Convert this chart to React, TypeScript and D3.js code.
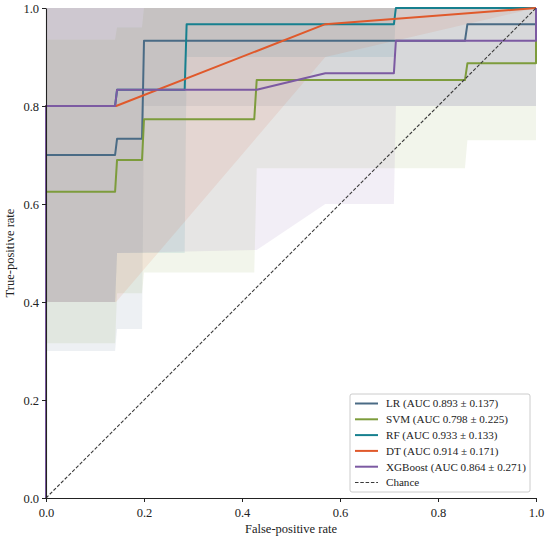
import React, { useEffect, useRef } from "react";
import * as d3 from "d3";

// rows: [fpr, mean tpr, mean - std, mean + std]
type RocRow = [number, number, number, number];

const LR_ROC: RocRow[] = [
  [0, 0, 0, 0],
  [0, 0.7, 0.3, 1],
  [0.141, 0.7, 0.3, 1],
  [0.145, 0.733, 0.345, 1],
  [0.196, 0.733, 0.345, 1],
  [0.2, 0.933, 0.8, 1],
  [0.855, 0.933, 0.8, 1],
  [0.86, 0.967, 0.8, 1],
  [1, 0.967, 0.8, 1],
  [1, 1, 1, 1],
];

const SVM_ROC: RocRow[] = [
  [0, 0, 0, 0],
  [0, 0.625, 0.316, 0.935],
  [0.141, 0.625, 0.316, 0.935],
  [0.145, 0.69, 0.418, 0.96],
  [0.196, 0.69, 0.418, 0.96],
  [0.2, 0.773, 0.46, 1],
  [0.425, 0.773, 0.46, 1],
  [0.43, 0.853, 0.673, 1],
  [0.855, 0.853, 0.673, 1],
  [0.86, 0.887, 0.73, 1],
  [1, 0.887, 0.73, 1],
  [1, 1, 1, 1],
];

const RF_ROC: RocRow[] = [
  [0, 0, 0, 0],
  [0, 0.8, 0.4, 1],
  [0.141, 0.8, 0.4, 1],
  [0.145, 0.833, 0.5, 1],
  [0.283, 0.833, 0.5, 1],
  [0.287, 0.967, 0.9, 1],
  [0.71, 0.967, 0.9, 1],
  [0.714, 1, 1, 1],
  [1, 1, 1, 1],
];

const DT_ROC: RocRow[] = [
  [0, 0, 0, 0],
  [0, 0.8, 0.4, 1],
  [0.143, 0.8, 0.4, 1],
  [0.57, 0.967, 0.9, 1],
  [1, 1, 1, 1],
];

const XGB_ROC: RocRow[] = [
  [0, 0, 0, 0],
  [0, 0.8, 0.4, 1],
  [0.141, 0.8, 0.4, 1],
  [0.145, 0.833, 0.5, 1],
  [0.43, 0.833, 0.506, 1],
  [0.57, 0.867, 0.6, 1],
  [0.71, 0.867, 0.6, 1],
  [0.714, 0.933, 0.8, 1],
  [1, 0.933, 0.8, 1],
  [1, 1, 1, 1],
];

const MODEL_NAMES = ["LR", "SVM", "RF", "DT", "XGBoost"];
const AUC_MEANS = ["0.893", "0.798", "0.933", "0.914", "0.864"];
const AUC_STDS = ["0.137", "0.225", "0.133", "0.171", "0.271"];
const MODEL_ROCS = [LR_ROC, SVM_ROC, RF_ROC, DT_ROC, XGB_ROC];
const COLORS = ["#4a6b85", "#7d9c3c", "#17808f", "#e0592b", "#7c5aa2"];

const X_TICKS = [0, 0.2, 0.4, 0.6, 0.8, 1.0];
const Y_TICKS = [0, 0.2, 0.4, 0.6, 0.8, 1.0];

const FONT = "'Liberation Serif', 'Times New Roman', serif";

export default function App() {
  const ref = useRef<SVGSVGElement>(null);

  useEffect(() => {
    const svg = d3.select(ref.current);
    svg.selectAll("*").remove();

    const width = 550;
    const height = 541;
    const margin = { top: 8, right: 14, bottom: 43, left: 46 };

    const x = d3
      .scaleLinear()
      .domain([0, 1])
      .range([margin.left, width - margin.right]);
    const y = d3
      .scaleLinear()
      .domain([0, 1])
      .range([height - margin.bottom, margin.top]);

    svg.attr("width", width).attr("height", height);

    // std bands
    const area = d3
      .area<RocRow>()
      .x((d) => x(d[0]))
      .y0((d) => y(d[2]))
      .y1((d) => y(d[3]));

    svg
      .append("g")
      .selectAll("path")
      .data(MODEL_ROCS)
      .join("path")
      .attr("d", (d) => area(d)!)
      .attr("fill", (_, i) => COLORS[i])
      .attr("fill-opacity", 0.1)
      .attr("stroke", "none");

    // mean curves
    const line = d3
      .line<RocRow>()
      .x((d) => x(d[0]))
      .y((d) => y(d[1]));

    svg
      .append("g")
      .selectAll("path")
      .data(MODEL_ROCS)
      .join("path")
      .attr("d", (d) => line(d)!)
      .attr("fill", "none")
      .attr("stroke", (_, i) => COLORS[i])
      .attr("stroke-width", 2)
      .attr("stroke-linejoin", "round");

    // chance
    svg
      .append("line")
      .attr("x1", x(0))
      .attr("y1", y(0))
      .attr("x2", x(1))
      .attr("y2", y(1))
      .attr("stroke", "#3a3a3a")
      .attr("stroke-width", 1.1)
      .attr("stroke-dasharray", "3.5,1.8");

    // axes
    const xAxis = svg
      .append("g")
      .attr("transform", `translate(0,${height - margin.bottom})`)
      .call(
        d3
          .axisBottom(x)
          .tickValues(X_TICKS)
          .tickFormat(d3.format(".1f"))
          .tickSize(4)
          .tickSizeOuter(0)
      );
    const yAxis = svg
      .append("g")
      .attr("transform", `translate(${margin.left},0)`)
      .call(
        d3
          .axisLeft(y)
          .tickValues(Y_TICKS)
          .tickFormat(d3.format(".1f"))
          .tickSize(4)
          .tickSizeOuter(0)
      );
    [xAxis, yAxis].forEach((g) => {
      g.select(".domain").attr("stroke", "#222").attr("stroke-width", 1.1);
      g.selectAll(".tick line").attr("stroke", "#222");
      g.selectAll("text")
        .attr("font-family", FONT)
        .attr("font-size", "12.5px")
        .attr("fill", "#222");
    });
    xAxis.selectAll("text").attr("dy", "0.95em");

    svg
      .append("text")
      .attr("x", (x(0) + x(1)) / 2)
      .attr("y", height - 8)
      .attr("text-anchor", "middle")
      .attr("font-family", FONT)
      .attr("font-size", "12.5px")
      .attr("fill", "#222")
      .text("False-positive rate");

    svg
      .append("text")
      .attr("transform", `translate(14,${(y(0) + y(1)) / 2}) rotate(-90)`)
      .attr("text-anchor", "middle")
      .attr("font-family", FONT)
      .attr("font-size", "12.5px")
      .attr("fill", "#222")
      .text("True-positive rate");

    // legend
    const legend = svg.append("g").attr("transform", "translate(350,394)");
    legend
      .append("rect")
      .attr("width", 180)
      .attr("height", 98)
      .attr("rx", 2)
      .attr("fill", "white")
      .attr("fill-opacity", 0.85)
      .attr("stroke", "#cccccc")
      .attr("stroke-width", 1);

    const labels = MODEL_NAMES.map(
      (n, i) => `${n} (AUC ${AUC_MEANS[i]} \u00b1 ${AUC_STDS[i]})`
    ).concat(["Chance"]);

    labels.forEach((label, i) => {
      const rowY = 9.5 + i * 15.8;
      const isChance = i === MODEL_NAMES.length;
      legend
        .append("line")
        .attr("x1", 5)
        .attr("x2", 28)
        .attr("y1", rowY)
        .attr("y2", rowY)
        .attr("stroke", isChance ? "#3a3a3a" : COLORS[i])
        .attr("stroke-width", isChance ? 1.1 : 2)
        .attr("stroke-dasharray", isChance ? "3.5,1.8" : null);
      legend
        .append("text")
        .attr("x", 36)
        .attr("y", rowY)
        .attr("dy", "0.35em")
        .attr("font-family", FONT)
        .attr("font-size", "11.1px")
        .attr("fill", "#222")
        .text(label);
    });
  }, []);

  return (
    <svg
      ref={ref}
      style={{ position: "absolute", left: 0, top: 0, background: "white" }}
    ></svg>
  );
}
